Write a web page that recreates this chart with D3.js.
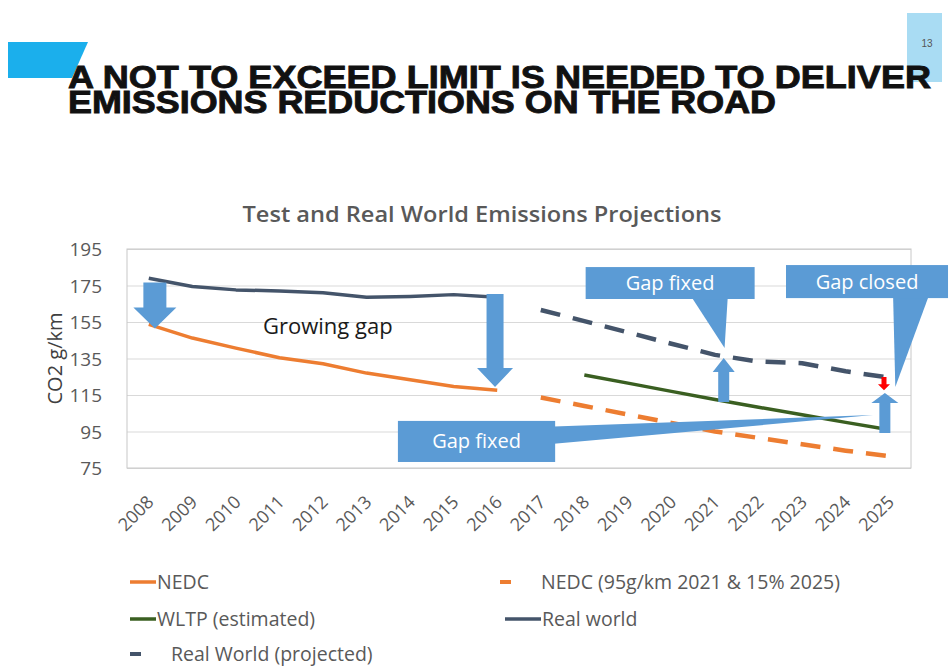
<!DOCTYPE html>
<html>
<head>
<meta charset="utf-8">
<script src="https://cdn.jsdelivr.net/npm/d3@7/dist/d3.min.js"></script>
<style>
  body { margin: 0; background: #fff; }
  svg { display: block; }
</style>
</head>
<body>
<svg id="slide" width="949" height="668"></svg>
<script>
//----------------------------------------------------------------
// Données du graphique
//----------------------------------------------------------------
const years = ["2008","2009","2010","2011","2012","2013","2014","2015","2016",
               "2017","2018","2019","2020","2021","2022","2023","2024","2025"];
const yTicks = [75, 95, 115, 135, 155, 175, 195];

// NEDC mesuré 2008 -> 2016
const nedc = [153.7, 146.2, 140.7, 135.4, 132.1, 127, 123.3, 119.7, 117.6];
// Real world 2008 -> 2016
const realWorld = [179, 174.5, 172.6, 172, 171, 168.5, 169, 170, 168.5];
// NEDC objectif 2017 -> 2025
const nedcTarget = [113.6, 109, 104.3, 99.7, 95, 91.5, 88, 84.5, 81.5];
// Real world projeté 2017 -> 2025
const realProjected = [161.6, 155.5, 149.3, 143.1, 137, 133.3, 132.4, 128, 124.5];
// WLTP estimé 2018 -> 2025
const wltp = [126, 121.5, 117, 112.5, 108.3, 104.2, 100, 96];

const legendLabels = ["NEDC", "NEDC (95g/km 2021 & 15% 2025)", "WLTP (estimated)",
                      "Real world", "Real World (projected)"];

//----------------------------------------------------------------
// Mise en page
//----------------------------------------------------------------
const svg = d3.select("#slide");
const plot = { left: 127, right: 911, top: 249, bottom: 468 };
const textGrey = "#595959";
const calloutBlue = "#5b9bd5";
const chartFont = "'Open Sans', 'Noto Sans', sans-serif";

const colors = {
    nedc: "#ed7d31",
    wltp: "#3a5f21",
    real: "#44546a"
};

// bandeau du haut
svg.append("polygon")
    .attr("points", "8,42 88,42 72,78 8,78")
    .attr("fill", "#1bafec");
svg.append("rect")
    .attr("x", 907).attr("y", 13)
    .attr("width", 35).attr("height", 69)
    .attr("fill", "#a9dcf3");
svg.append("text")
    .attr("x", 927).attr("y", 47)
    .attr("text-anchor", "middle")
    .attr("font-family", "'Liberation Sans Narrow', 'Liberation Sans', sans-serif")
    .attr("font-size", 10)
    .attr("fill", "#555")
    .text("13");

// titre de la diapo : un seul texte, deux lignes
const titleLines = [
    { text: "A NOT TO EXCEED LIMIT IS NEEDED TO DELIVER", y: 88, len: 863 },
    { text: "EMISSIONS REDUCTIONS ON THE ROAD", y: 113, len: 708 }
];
const slideTitle = svg.append("text")
    .attr("font-family", "'Liberation Sans', Arial, sans-serif")
    .attr("font-weight", "bold")
    .attr("font-size", 32)
    .attr("fill", "#111")
    .attr("stroke", "#111")
    .attr("stroke-width", 0.9);
titleLines.forEach(function (l) {
    slideTitle.append("tspan")
        .attr("x", 68).attr("y", l.y)
        .attr("textLength", l.len)
        .attr("lengthAdjust", "spacingAndGlyphs")
        .text(l.text);
});

//----------------------------------------------------------------
// Echelles et axes
//----------------------------------------------------------------
const x = d3.scaleBand()
    .domain(years)
    .range([plot.left, plot.right])
    .padding(0);
const xc = function (yr) { return x(yr) + x.bandwidth() / 2; };
// position pour une année "fractionnaire" (annotations)
const xf = function (yr) { return xc(years[0]) + (yr - 2008) * x.bandwidth(); };

const y = d3.scaleLinear()
    .domain([75, 195])
    .range([plot.bottom, plot.top]);

// titre du graphique
svg.append("text")
    .attr("x", 482).attr("y", 222)
    .attr("text-anchor", "middle")
    .attr("font-family", chartFont)
    .attr("font-weight", 600)
    .attr("font-size", 21)
    .attr("textLength", 479)
    .attr("lengthAdjust", "spacingAndGlyphs")
    .attr("fill", textGrey)
    .text("Test and Real World Emissions Projections");

// grille
svg.append("g")
    .attr("transform", "translate(" + plot.left + ",0)")
    .call(d3.axisLeft(y).tickValues(yTicks).tickSize(-(plot.right - plot.left)).tickFormat(""))
    .call(function (g) { g.select(".domain").remove(); })
    .selectAll("line")
    .attr("stroke", "#d9d9d9");

svg.append("rect")
    .attr("x", plot.left).attr("y", plot.top)
    .attr("width", plot.right - plot.left)
    .attr("height", plot.bottom - plot.top)
    .attr("fill", "none")
    .attr("stroke", "#c8c8c8");

// axe Y
const yAxis = svg.append("g")
    .attr("transform", "translate(" + (plot.left - 22) + ",0)")
    .call(d3.axisLeft(y).tickValues(yTicks).tickSize(0));
yAxis.select(".domain").remove();
yAxis.selectAll("text")
    .attr("font-family", chartFont)
    .attr("font-size", 19)
    .attr("fill", textGrey)
    .attr("dy", "0.35em");

svg.append("text")
    .attr("transform", "translate(62," + ((plot.top + plot.bottom) / 2) + ") rotate(-90)")
    .attr("text-anchor", "middle")
    .attr("font-family", chartFont)
    .attr("font-size", 20)
    .attr("fill", "#404040")
    .text("CO2 g/km");

// axe X
const xAxis = svg.append("g")
    .attr("transform", "translate(0," + plot.bottom + ")")
    .call(d3.axisBottom(x).tickSize(0));
xAxis.select(".domain").remove();
xAxis.selectAll("text")
    .attr("font-family", chartFont)
    .attr("font-size", 18)
    .attr("fill", textGrey)
    .attr("text-anchor", "end")
    .attr("dy", 0)
    .attr("transform", "translate(4,33) rotate(-45)");

//----------------------------------------------------------------
// Séries
//----------------------------------------------------------------
const line = d3.line()
    .x(function (d) { return xc(d.year); })
    .y(function (d) { return y(d.value); });

function serie(values, firstYear) {
    const start = years.indexOf(firstYear);
    return values.map(function (v, i) { return { year: years[start + i], value: v }; });
}

const series = [
    { data: serie(nedc, "2008"), color: colors.nedc, dash: null },
    { data: serie(realWorld, "2008"), color: colors.real, dash: null },
    { data: serie(nedcTarget, "2017"), color: colors.nedc, dash: "20,13" },
    { data: serie(realProjected, "2017"), color: colors.real, dash: "20,13" },
    { data: serie(wltp, "2018"), color: colors.wltp, dash: null }
];

series.forEach(function (s) {
    svg.append("path")
        .datum(s.data)
        .attr("d", line)
        .attr("fill", "none")
        .attr("stroke", s.color)
        .attr("stroke-width", s.dash ? 4.5 : 3.5)
        .attr("stroke-dasharray", s.dash)
        .attr("stroke-linejoin", "round");
});

//----------------------------------------------------------------
// Annotations (flèches et bulles)
//----------------------------------------------------------------
/**
 * flèche verticale : cx (année), from -> to (valeurs)
 */
function blockArrow(cx, from, to, shaft, head, headLen, color) {
    const px = xf(cx), y0 = y(from), y1 = y(to);
    const dir = y1 > y0 ? 1 : -1;
    const yb = y1 - dir * headLen;
    const pts = [
        [px - shaft / 2, y0], [px + shaft / 2, y0], [px + shaft / 2, yb],
        [px + head / 2, yb], [px, y1], [px - head / 2, yb], [px - shaft / 2, yb]
    ];
    svg.append("polygon")
        .attr("points", pts.map(function (p) { return p.join(","); }).join(" "))
        .attr("fill", color);
}

blockArrow(2008.14, 176.7, 151.4, 23, 43, 21, calloutBlue);
blockArrow(2015.95, 170.4, 119.4, 17, 36, 19, calloutBlue);
blockArrow(2021.2, 111.2, 135.3, 11, 22, 14, calloutBlue);
blockArrow(2024.9, 94.2, 116.1, 11, 27, 10, calloutBlue);
blockArrow(2024.88, 124.8, 117.6, 5, 12, 6, "#ff0000");

// bulles : rectangle + pointe
const callouts = [
    { label: "Gap fixed", x0: 2018.03, x1: 2021.91, top: 185.1, bottom: 167.6,
      tail: [[2020.49, 167.6], [2021.29, 167.6], [2021.22, 140.8]] },
    { label: "Gap closed", x0: 2022.63, x1: 2026.35, top: 186.2, bottom: 168.1,
      tail: [[2025.09, 168.1], [2025.89, 168.1], [2025.14, 119.4]] },
    { label: "Gap fixed", x0: 2013.72, x1: 2017.33, top: 100.8, bottom: 78.3,
      tail: [[2016.98, 97.5], [2024.63, 104.0], [2016.98, 87.6]] }
];

callouts.forEach(function (c) {
    svg.append("polygon")
        .attr("points", c.tail.map(function (p) { return xf(p[0]) + "," + y(p[1]); }).join(" "))
        .attr("fill", calloutBlue);
    svg.append("rect")
        .attr("x", xf(c.x0)).attr("y", y(c.top))
        .attr("width", xf(c.x1) - xf(c.x0))
        .attr("height", y(c.bottom) - y(c.top))
        .attr("fill", calloutBlue);
    svg.append("text")
        .attr("x", (xf(c.x0) + xf(c.x1)) / 2)
        .attr("y", (y(c.top) + y(c.bottom)) / 2)
        .attr("dy", "0.35em")
        .attr("text-anchor", "middle")
        .attr("font-family", chartFont)
        .attr("font-size", 20)
        .attr("fill", "#fff")
        .text(c.label);
});

svg.append("text")
    .attr("x", 263).attr("y", y(148.5))
    .attr("font-family", chartFont)
    .attr("font-size", 22)
    .attr("fill", "#1a1a1a")
    .text("Growing gap");

//----------------------------------------------------------------
// Légende
//----------------------------------------------------------------
const legend = [
    { label: legendLabels[0], color: colors.nedc, dash: false, x: 130, y: 582 },
    { label: legendLabels[1], color: colors.nedc, dash: true,  x: 500, y: 582 },
    { label: legendLabels[2], color: colors.wltp, dash: false, x: 130, y: 619 },
    { label: legendLabels[3], color: colors.real, dash: false, x: 505, y: 619 },
    { label: legendLabels[4], color: colors.real, dash: true,  x: 130, y: 654 }
];

legend.forEach(function (l) {
    const len = l.dash ? 11 : (l.x > 300 ? 36 : 26);
    svg.append("line")
        .attr("x1", l.x).attr("x2", l.x + len)
        .attr("y1", l.y).attr("y2", l.y)
        .attr("stroke", l.color)
        .attr("stroke-width", l.dash ? 4 : 3.5);
    svg.append("text")
        .attr("x", l.dash ? l.x + 41 : l.x + len + 1)
        .attr("y", l.y)
        .attr("dy", "0.35em")
        .attr("font-family", chartFont)
        .attr("font-size", 19.5)
        .attr("fill", textGrey)
        .text(l.label);
});
</script>
</body>
</html>
